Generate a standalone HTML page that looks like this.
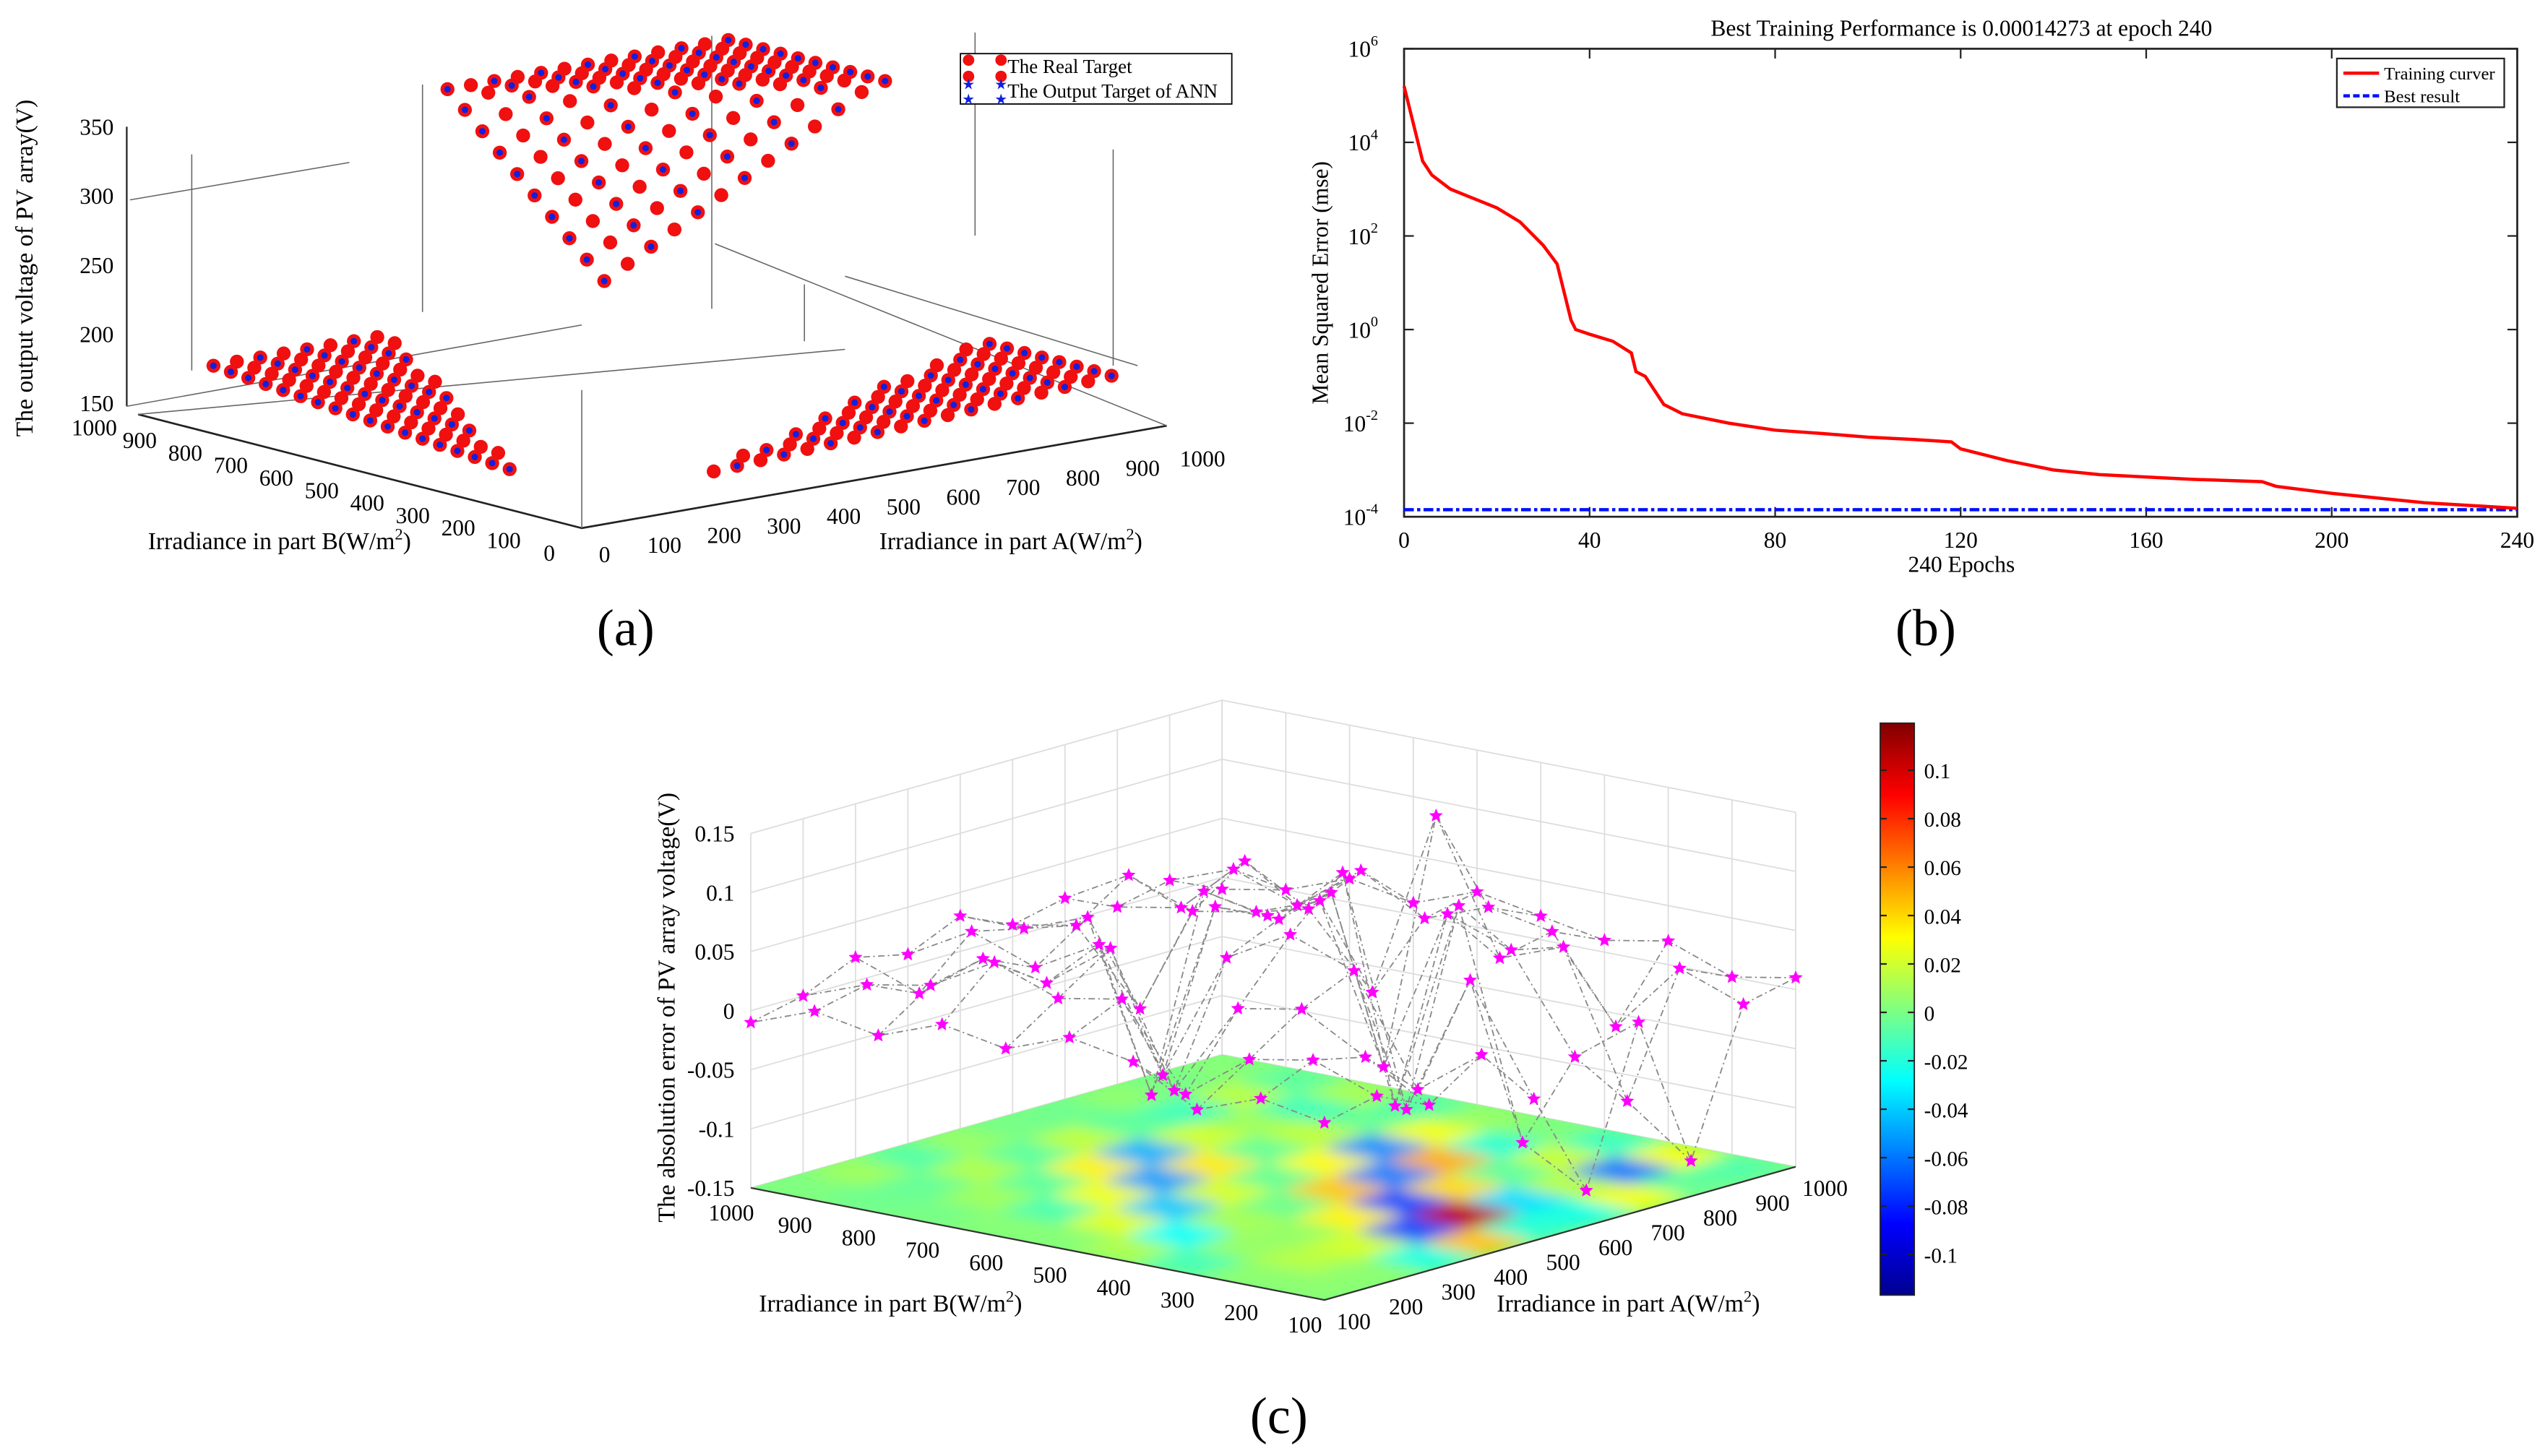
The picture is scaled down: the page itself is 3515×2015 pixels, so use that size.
<!DOCTYPE html>
<html><head><meta charset="utf-8"><style>
html,body{margin:0;padding:0;background:#fff;}
svg{display:block;font-family:"Liberation Serif",serif;}
</style></head><body>
<svg id="fig" width="3515" height="2015" viewBox="0 0 1563 896" preserveAspectRatio="none" xmlns="http://www.w3.org/2000/svg">
<defs>
<linearGradient id="jet" x1="0" y1="1" x2="0" y2="0">
<stop offset="0" stop-color="#00008f"/><stop offset="0.125" stop-color="#0000ff"/><stop offset="0.375" stop-color="#00ffff"/><stop offset="0.5" stop-color="#80ff80"/><stop offset="0.625" stop-color="#ffff00"/><stop offset="0.875" stop-color="#ff0000"/><stop offset="1" stop-color="#800000"/>
</linearGradient>
<filter id="blur"><feGaussianBlur stdDeviation="4.5"/></filter>
<clipPath id="floorclip"><polygon points="815,800 1105,718 752,649 462,731"/></clipPath>
</defs>
<g id="pa"></g>
<g id="pb"></g>
<g id="pc"></g>
<text x="385" y="397" font-size="32" text-anchor="middle">(a)</text>
<text x="1185" y="397" font-size="32" text-anchor="middle">(b)</text>
<text x="787" y="882" font-size="32" text-anchor="middle">(c)</text>
</svg>
<script>
// ---------- Panel A data ----------
const irrLevels=[100,140,180,220,260,300,340,380,420,460,500,540,580,620,660,700,740,780,820,860,900,940,980];
const voltTicks=[150,200,250,300,350];
const irrTicks=[0,100,200,300,400,500,600,700,800,900,1000];
const plateauBase=[225,350];
const lowBase=[160,180];
// ---------- Panel B data ----------
const epochs=[0,1,2,3,4,6,8,10,15,20,25,30,33,34,35,36,37,40,45,49,50,52,54,56,60,70,80,90,100,110,118,120,130,140,150,160,170,185,188,200,220,240];
const logMse=[5.2,4.8,4.4,4.0,3.6,3.3,3.15,3.0,2.8,2.6,2.3,1.8,1.4,1.0,0.6,0.2,0.0,-0.1,-0.25,-0.5,-0.9,-1.0,-1.3,-1.6,-1.8,-2.0,-2.15,-2.22,-2.3,-2.35,-2.4,-2.55,-2.8,-3.0,-3.1,-3.15,-3.2,-3.25,-3.35,-3.5,-3.7,-3.82];
const bestLog=[-3.85];
const epochTicks=[0,40,80,120,160,200,240];
const decadeTicks=[6,4,2,0,-2,-4];
// ---------- Panel C data ----------
const gridIrr=[100,200,300,400,500,600,700,800,900,1000];
const errZ=[
[0.00,0.01,-0.01,0.02,-0.03,-0.12,0.01,-0.12,0.00,0.01],
[0.01,0.03,0.02,-0.02,0.06,-0.09,-0.03,-0.08,0.02,0.00],
[-0.01,0.02,0.05,0.07,-0.06,0.10,0.05,0.04,-0.04,0.02],
[0.02,-0.02,0.04,0.09,0.13,-0.08,0.07,0.02,0.03,0.01],
[0.03,0.05,-0.04,0.06,0.08,0.09,-0.07,0.13,0.04,0.02],
[0.01,0.04,0.07,-0.05,0.08,0.06,0.06,-0.03,0.02,0.03],
[0.02,0.06,0.03,0.05,-0.09,0.07,0.04,0.03,0.05,0.01],
[0.00,0.03,0.04,0.02,0.05,-0.04,0.03,0.06,0.01,0.02],
[0.01,0.02,0.00,0.04,0.03,0.02,0.05,0.01,0.03,0.00],
[-0.01,0.00,0.02,0.01,0.03,0.01,0.02,0.00,0.01,-0.01]];
const zTicks=[-0.15,-0.1,-0.05,0,0.05,0.1,0.15];
const cbTicks=[0.1,0.08,0.06,0.04,0.02,0,-0.02,-0.04,-0.06,-0.08,-0.1];

const NS='http://www.w3.org/2000/svg';
function mk(parent,tag,attrs,txt){const e=document.createElementNS(NS,tag);for(const k in attrs)e.setAttribute(k,attrs[k]);if(txt!==undefined)e.textContent=txt;parent.appendChild(e);return e;}

// ===== Panel A =====
const pa=document.getElementById('pa');
function pA(a,b,v){return [358+0.36*a-0.268*b, 325-0.063*a-0.07*b-(v-150)*0.85];}
let ln;
ln=mk(pa,'line',{x1:78,y1:78,x2:78,y2:250,stroke:'#222','stroke-width':1});

ln=mk(pa,'polyline',{points:'85,255 358,325 718,262',fill:'none',stroke:'#222','stroke-width':1.2});

const guide=[[78,250,358,200],[85,255,520,215],[358,325,358,240],[718,262,440,150],[80,123,215,100],[700,225,520,170],[600,20,600,145],[685,92,685,225],[438,22,438,190],[118,228,118,95],[260,52,260,192],[495,175,495,210]];
guide.forEach(g=>{const l=mk(pa,'line',{x1:g[0],y1:g[1],x2:g[2],y2:g[3],stroke:'#666','stroke-width':0.7});
});
voltTicks.forEach(v=>{const y=248-(v-150)*0.85;
const t=mk(pa,'text',{x:70,y:y+5,'font-size':14,'text-anchor':'end'},String(v));
});
irrTicks.forEach(v=>{
const x=338-(v)*0.28, y=340-v*0.077;
const t=mk(pa,'text',{x:x,y:y+5,'font-size':14,'text-anchor':'middle'},String(v));

const x2=372+v*0.368, y2=341-v*0.059;
const t2=mk(pa,'text',{x:x2,y:y2+5,'font-size':14,'text-anchor':'middle'},String(v));
});
let tt=mk(pa,'text',{x:20,y:165,'font-size':15,'text-anchor':'middle',transform:'rotate(-90 20 165)'},'The output voltage of PV array(V)');

tt=mk(pa,'text',{x:172,y:338,'font-size':15,'text-anchor':'middle'});tt.innerHTML='Irradiance in part B(W/m<tspan dy="-6" font-size="10">2</tspan><tspan dy="6">)</tspan>';

tt=mk(pa,'text',{x:622,y:338,'font-size':15,'text-anchor':'middle'});tt.innerHTML='Irradiance in part A(W/m<tspan dy="-6" font-size="10">2</tspan><tspan dy="6">)</tspan>';

const pts=[];
irrLevels.forEach((a,i)=>irrLevels.forEach((b,j)=>{
 let v=null;
 if(a>=472&&b>=590){v=plateauBase[0]+(plateauBase[1]-plateauBase[0])*Math.min(1,(a-472)/528+(b-590)/410);}
 else if(a<=420&&b>=280&&(a-100)<=(b-280)*0.444){v=lowBase[0]+(lowBase[1]-lowBase[0])*(b-280)/720;}
 else if(b<=420&&a>=280&&(b-100)<=(a-280)*0.444){v=lowBase[0]+(lowBase[1]-lowBase[0])*(a-280)/720;}
 if(v!==null)pts.push([a,b,v,i,j]);}));
pts.sort((p,q)=>(p[0]+p[1])-(q[0]+q[1])).reverse();
pts.forEach(p=>{const [x,y]=pA(p[0],p[1],p[2]);
 const c=mk(pa,'circle',{cx:x,cy:y,r:4.3,fill:'#f01010'});
 
 if((p[3])%2===0){const d=mk(pa,'circle',{cx:x,cy:y,r:2,fill:'#1020e0'});
 }});
const lg=mk(pa,'g',{});
mk(lg,'rect',{x:591,y:33,width:167,height:31,fill:'#fff',stroke:'#000','stroke-width':0.8});
[[596,37],[616,37],[596,47],[616,47]].forEach(q=>{const c=mk(lg,'circle',{cx:q[0],cy:q[1],r:3.5,fill:'#f01010'});});
[[596,52],[616,52],[596,61],[616,61]].forEach(q=>{const c=mk(lg,'text',{x:q[0],y:q[1]+3,'font-size':9,fill:'#1020e0','text-anchor':'middle'},'★');});
tt=mk(lg,'text',{x:620,y:45,'font-size':12},'The Real Target');
tt=mk(lg,'text',{x:620,y:60,'font-size':12},'The Output Target of ANN');

// ===== Panel B =====
const pb=document.getElementById('pb');
const bx=e=>864+e/240*685, by=L=>318-(L+4)/10*288;
let r=mk(pb,'rect',{x:864,y:30,width:685,height:288,fill:'#fff',stroke:'#222','stroke-width':1.2});

epochTicks.forEach(e=>{mk(pb,'line',{x1:bx(e),y1:318,x2:bx(e),y2:312,stroke:'#222'});mk(pb,'line',{x1:bx(e),y1:30,x2:bx(e),y2:36,stroke:'#222'});
const t=mk(pb,'text',{x:bx(e),y:337,'font-size':14,'text-anchor':'middle'},String(e));});
decadeTicks.forEach(d=>{mk(pb,'line',{x1:864,y1:by(d),x2:870,y2:by(d),stroke:'#222'});mk(pb,'line',{x1:1549,y1:by(d),x2:1543,y2:by(d),stroke:'#222'});
const t=mk(pb,'text',{x:848,y:by(d)+5,'font-size':14,'text-anchor':'end'});t.innerHTML='10<tspan dy="-7" font-size="9">'+d+'</tspan>';});
tt=mk(pb,'text',{x:1207,y:22,'font-size':14,'text-anchor':'middle'},'Best Training Performance is 0.00014273 at epoch 240');
tt=mk(pb,'text',{x:1207,y:352,'font-size':14,'text-anchor':'middle'},'240 Epochs');
tt=mk(pb,'text',{x:817,y:174,'font-size':14,'text-anchor':'middle',transform:'rotate(-90 817 174)'},'Mean Squared Error  (mse)');
let bl=mk(pb,'line',{x1:bx(0),y1:by(bestLog[0]),x2:bx(240),y2:by(bestLog[0]),stroke:'#0010ff','stroke-width':2,'stroke-dasharray':'6 2 2 2'});

let tc=mk(pb,'polyline',{points:epochs.map((e,i)=>bx(e)+','+by(logMse[i])).join(' '),fill:'none',stroke:'#ff0000','stroke-width':2});

const lb=mk(pb,'g',{});
mk(lb,'rect',{x:1438,y:36,width:103,height:30,fill:'#fff',stroke:'#222'});
mk(lb,'line',{x1:1442,y1:45,x2:1464,y2:45,stroke:'#f00','stroke-width':2});
mk(lb,'line',{x1:1442,y1:59,x2:1464,y2:59,stroke:'#0010ff','stroke-width':2,'stroke-dasharray':'4 2'});
tt=mk(lb,'text',{x:1467,y:49,'font-size':11},'Training curver');
tt=mk(lb,'text',{x:1467,y:63,'font-size':11},'Best result');

// ===== Panel C =====
const pc=document.getElementById('pc');
function pC(a,b,z){const u=(a-100)/900,w=(b-100)/900;return [815+u*290+w*(-353),800-u*82-w*69-(z+0.15)*727];}
function jet(t){t=Math.max(0,Math.min(1,t));const c=x=>Math.round(255*Math.max(0,Math.min(1,1.5-Math.abs(x))));return 'rgb('+c(4*t-3)+','+c(4*t-2)+','+c(4*t-1)+')';}
const wg=mk(pc,'g',{stroke:'#ddd','stroke-width':0.8});
gridIrr.forEach(v=>{let p=pC(v,1000,-0.15),q=pC(v,1000,0.15);mk(wg,'line',{x1:p[0],y1:p[1],x2:q[0],y2:q[1]});
p=pC(1000,v,-0.15);q=pC(1000,v,0.15);mk(wg,'line',{x1:p[0],y1:p[1],x2:q[0],y2:q[1]});});
zTicks.forEach(z=>{let p=pC(100,1000,z),q=pC(1000,1000,z),s=pC(1000,100,z);mk(wg,'polyline',{points:p.join(',')+' '+q.join(',')+' '+s.join(','),fill:'none'});
const t=mk(pc,'text',{x:452,y:p[1]+5,'font-size':14,'text-anchor':'end'},String(z));});
const fl=mk(pc,'g',{'clip-path':'url(#floorclip)'});
mk(fl,'polygon',{points:'815,800 1105,718 752,649 462,731',fill:'#7fff80'});
const fb=mk(fl,'g',{filter:'url(#blur)'});
for(let i=0;i<gridIrr.length-1;i++)for(let j=0;j<gridIrr.length-1;j++){
 const v=(errZ[j][i]-errZ[j][i+1]+errZ[j+1][i+1]-errZ[j+1][i]);
 const a0=gridIrr[i],a1=gridIrr[i+1],b0=gridIrr[j],b1=gridIrr[j+1];
 const q=[pC(a0,b0,-0.15),pC(a1,b0,-0.15),pC(a1,b1,-0.15),pC(a0,b1,-0.15)];
 const cell=mk(fb,'polygon',{points:q.map(p=>p.join(',')).join(' '),fill:jet(0.5+v*(j<2?1.4:0.8))});
 }
let fe=mk(pc,'polyline',{points:'462,731 815,800 1105,718',fill:'none',stroke:'#333','stroke-width':1});
gridIrr.forEach(v=>{let p=pC(100,v,-0.15);const t=mk(pc,'text',{x:p[0]-12,y:p[1]+20,'font-size':14,'text-anchor':'middle'},String(v));
p=pC(v,100,-0.15);const t2=mk(pc,'text',{x:p[0]+18,y:p[1]+18,'font-size':14,'text-anchor':'middle'},String(v));});
const cl=mk(pc,'g',{stroke:'#888','stroke-width':0.8,'stroke-dasharray':'4 2 1 2',fill:'none'});
for(let j=0;j<gridIrr.length;j++){
 const a=document.createElementNS(NS,'polyline');a.setAttribute('points',gridIrr.map((x,i)=>pC(x,gridIrr[j],errZ[j][i]).join(',')).join(' '));cl.appendChild(a);
 const c=document.createElementNS(NS,'polyline');c.setAttribute('points',gridIrr.map((b,k)=>pC(gridIrr[j],b,errZ[k][j]).join(',')).join(' '));cl.appendChild(c);}
function star(x,y,r){let s='';for(let k=0;k<10;k++){const rr=k%2?r*0.45:r,an=-Math.PI/2+k*Math.PI/5;s+=(x+rr*Math.cos(an)).toFixed(1)+','+(y+rr*Math.sin(an)).toFixed(1)+' ';}return s;}
gridIrr.forEach((b,j)=>gridIrr.forEach((a,i)=>{const p=pC(a,b,errZ[j][i]);
 const s=mk(pc,'polygon',{points:star(p[0],p[1],4.5),fill:'#ff00ff'});
 }));
tt=mk(pc,'text',{x:415,y:620,'font-size':15,'text-anchor':'middle',transform:'rotate(-90 415 620)'},'The absolution error of PV array voltage(V)');
tt=mk(pc,'text',{x:548,y:807,'font-size':15,'text-anchor':'middle'});tt.innerHTML='Irradiance in part B(W/m<tspan dy="-6" font-size="10">2</tspan><tspan dy="6">)</tspan>';
tt=mk(pc,'text',{x:1002,y:807,'font-size':15,'text-anchor':'middle'});tt.innerHTML='Irradiance in part A(W/m<tspan dy="-6" font-size="10">2</tspan><tspan dy="6">)</tspan>';
const cb=mk(pc,'rect',{x:1157,y:445,width:21,height:352,fill:'url(#jet)',stroke:'#222','stroke-width':0.8});
cbTicks.forEach(v=>{const y=623-v*1490;mk(pc,'line',{x1:1157,y1:y,x2:1161,y2:y,stroke:'#222'});mk(pc,'line',{x1:1178,y1:y,x2:1174,y2:y,stroke:'#222'});
const t=mk(pc,'text',{x:1184,y:y+5,'font-size':13},String(v));});
</script>
</body></html>
